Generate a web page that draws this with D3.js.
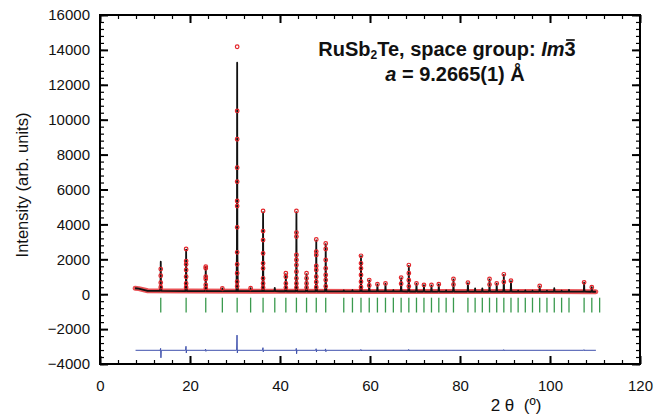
<!DOCTYPE html>
<html>
<head>
<meta charset="utf-8">
<script src="https://cdn.jsdelivr.net/npm/d3@7"></script>
<style>
  html, body { margin: 0; padding: 0; background: #fff; }
  svg { display: block; }
  text { font-family: "Liberation Sans", Arial, sans-serif; }
</style>
</head>
<body>
<svg id="chart" width="654" height="419"></svg>
<script>
// ---------- DATA ----------
// Bragg reflection positions (2θ, degrees)
const reflPos = [13.50, 19.14, 23.50, 27.19, 30.48, 33.47, 36.24, 38.84, 41.30, 43.65,
  45.90, 48.06, 50.16, 54.17, 56.10, 58.00, 59.83, 61.65, 63.44, 65.19,
  66.92, 68.63, 70.33, 71.99, 73.66, 75.29, 76.92, 78.55, 81.76, 83.36,
  84.96, 86.56, 88.16, 89.74, 91.33, 92.92, 94.51, 96.11, 97.71, 99.32,
  100.95, 102.58, 104.22, 107.58, 109.29, 111.03];
// Calculated peak-top intensities (same order; last reflection outside data range)
const calcTop = [1860, 2560, 1580, 330, 13270, 340, 4700, 360, 1150, 4700,
  1150, 3080, 2870, 220, 230, 2180, 790, 560, 600, 230,
  920, 1620, 600, 520, 510, 560, 220, 850, 640, 330,
  330, 850, 600, 1100, 750, 200, 220, 200, 450, 200,
  340, 200, 240, 660, 400, null];
// Background (observed/calculated baseline)
const bgX = [7.8, 8.6, 10.6, 20, 40, 60, 80, 100, 110.2];
const bgY = [340, 320, 195, 180, 170, 160, 150, 148, 140];
// Observed points on peaks (2θ, list of intensities)
const obsPos = [13.50, 19.14, 23.50, 27.19, 30.48, 33.47, 36.24, 41.30, 43.65, 45.90, 48.06, 50.16,
  58.00, 59.83, 61.65, 63.44, 66.92, 68.63, 70.33, 71.99, 73.66, 75.29, 78.55,
  81.76, 86.56, 88.16, 89.74, 91.33, 97.71, 107.58, 109.29];
const obsVals = [
  [1440, 1060, 660, 400],
  [2590, 1900, 1710, 1390, 1000, 620, 400],
  [1580, 1480, 1000, 870, 530, 350],
  [330],
  [14180, 10500, 8880, 7250, 6450, 5340, 5050, 3830, 2400, 1710, 1200, 720, 450],
  [340],
  [4770, 3620, 3100, 2340, 1770, 1480, 910, 620, 380],
  [1200, 1000, 620, 380],
  [4770, 3530, 3300, 2250, 1960, 1670, 1290, 910, 620, 380],
  [1200, 910, 620, 380],
  [3140, 2440, 2250, 1620, 1390, 1000, 700, 400],
  [2910, 2590, 1960, 1480, 1100, 810, 450],
  [2200, 1770, 1480, 1100, 720, 400],
  [810, 500],
  [570],
  [620],
  [950, 600],
  [1670, 1200, 800, 450],
  [620],
  [530],
  [530],
  [570],
  [870, 550],
  [660],
  [870, 550],
  [620],
  [1140, 700],
  [770],
  [470],
  [680],
  [400]
];
// Difference curve (Iobs - Icalc, offset)
const diffBase = -3215;
const diffRange = [7.9, 110.2];
const diffPos  = [13.50, 19.14, 23.50, 30.48, 36.24, 43.65, 48.06, 50.16, 58.00, 68.63, 89.74, 107.58];
const diffUp   = [110, 230, 70, 870, 150, 110, 90, 80, 50, 50, 40, 40];
const diffDown = [-430, -150, -60, -150, -90, -200, -90, -80, -40, -40, -40, -30];
// Bragg tick extent
const tickRange = [-200, -1050];
// Axis ticks
const xMajor = [0, 20, 40, 60, 80, 100, 120];
const xMinor = d3.range(0, 121, 4);
const yMajor = [-4000, -2000, 0, 2000, 4000, 6000, 8000, 10000, 12000, 14000, 16000];
const yMinor = d3.range(-4000, 16001, 400);

// ---------- LAYOUT ----------
const L = 100, R = 640, T = 15, B = 364;
const svg = d3.select("#chart");
const x = d3.scaleLinear().domain([0, 120]).range([L, R]);
const y = d3.scaleLinear().domain([-4000, 16000]).range([B, T]);
const bg = d3.scaleLinear().domain(bgX).range(bgY);

const RED = "#e3262b", BLACK = "#111", GREEN = "#3a9a4e", BLUE = "#3f51ad";

// ---------- CALCULATED PROFILE ----------
const hw = 0.16;
let calcPts = [];
bgX.forEach((bx, i) => calcPts.push([bx, bgY[i]]));
reflPos.forEach((p, i) => {
  const h = calcTop[i];
  if (h == null || p > bgX[bgX.length - 1]) return;
  const b = bg(p);
  calcPts.push([p - hw, b]);
  calcPts.push([p - 0.05, b + (h - b) * 0.18]);
  calcPts.push([p, h]);
  calcPts.push([p + 0.05, b + (h - b) * 0.18]);
  calcPts.push([p + hw, b]);
});
calcPts.sort((a, b) => a[0] - b[0]);
const line = d3.line().x(d => x(d[0])).y(d => y(d[1]));

// observed baseline band (dense observed points merge into a band)
svg.append("path")
  .attr("d", line(bgX.map((bx, i) => [bx, bgY[i]])))
  .attr("fill", "none").attr("stroke", RED).attr("stroke-width", 5)
  .attr("stroke-opacity", 0.8).attr("stroke-linejoin", "round").attr("stroke-linecap", "round");

// calculated line
svg.append("path")
  .attr("d", line(calcPts))
  .attr("fill", "none").attr("stroke", BLACK).attr("stroke-width", 1.8)
  .attr("stroke-linejoin", "round");

// observed circles
const obsFlat = [];
obsPos.forEach((p, i) => obsVals[i].forEach(v => obsFlat.push([p, v])));
svg.append("g").selectAll("circle").data(obsFlat).join("circle")
  .attr("cx", d => x(d[0])).attr("cy", d => y(d[1])).attr("r", 1.8)
  .attr("fill", "none").attr("stroke", RED).attr("stroke-width", 1.2);

// Bragg ticks
svg.append("g").selectAll("line").data(reflPos).join("line")
  .attr("x1", d => x(d)).attr("x2", d => x(d))
  .attr("y1", y(tickRange[0])).attr("y2", y(tickRange[1]))
  .attr("stroke", GREEN).attr("stroke-width", 1.3);

// Difference curve
let diffPts = [[diffRange[0], diffBase]];
diffPos.forEach((p, i) => {
  diffPts.push([p - 0.12, diffBase]);
  diffPts.push([p - 0.03, diffBase + diffUp[i]]);
  diffPts.push([p + 0.04, diffBase + diffDown[i]]);
  diffPts.push([p + 0.12, diffBase]);
});
diffPts.push([diffRange[1], diffBase]);
svg.append("path").attr("d", line(diffPts))
  .attr("fill", "none").attr("stroke", BLUE).attr("stroke-width", 1);

// ---------- AXES ----------
function styleAxis(g, w) {
  g.select(".domain").remove();
  g.selectAll(".tick line").attr("stroke", "#000").attr("stroke-width", w);
  g.selectAll("text").attr("font-size", 15).attr("fill", "#111")
    .attr("font-family", '"Liberation Sans", Arial, sans-serif');
}
// minor ticks
svg.append("g").attr("transform", `translate(0,${B})`)
  .call(d3.axisBottom(x).tickValues(xMinor).tickSize(-4).tickFormat("")).call(g => styleAxis(g, 1.2));
svg.append("g").attr("transform", `translate(0,${T})`)
  .call(d3.axisTop(x).tickValues(xMinor).tickSize(-4).tickFormat("")).call(g => styleAxis(g, 1.2));
svg.append("g").attr("transform", `translate(${L},0)`)
  .call(d3.axisLeft(y).tickValues(yMinor).tickSize(-4).tickFormat("")).call(g => styleAxis(g, 1.2));
svg.append("g").attr("transform", `translate(${R},0)`)
  .call(d3.axisRight(y).tickValues(yMinor).tickSize(-4).tickFormat("")).call(g => styleAxis(g, 1.2));
// major ticks
svg.append("g").attr("transform", `translate(0,${B})`)
  .call(d3.axisBottom(x).tickValues(xMajor).tickSize(-8).tickPadding(16).tickFormat(d3.format("d")))
  .call(g => styleAxis(g, 2));
svg.append("g").attr("transform", `translate(0,${T})`)
  .call(d3.axisTop(x).tickValues(xMajor).tickSize(-8).tickFormat("")).call(g => styleAxis(g, 2));
svg.append("g").attr("transform", `translate(${L},0)`)
  .call(d3.axisLeft(y).tickValues(yMajor).tickSize(-8).tickPadding(10).tickFormat(d3.format("d")))
  .call(g => styleAxis(g, 2));
svg.append("g").attr("transform", `translate(${R},0)`)
  .call(d3.axisRight(y).tickValues(yMajor).tickSize(-8).tickFormat("")).call(g => styleAxis(g, 2));

// frame
svg.append("rect").attr("x", L).attr("y", T).attr("width", R - L).attr("height", B - T)
  .attr("fill", "none").attr("stroke", "#000").attr("stroke-width", 2);

// ---------- LABELS ----------
svg.append("text")
  .attr("transform", `translate(28,185) rotate(-90)`)
  .attr("text-anchor", "middle").attr("font-size", 16.5).attr("fill", "#111")
  .text("Intensity (arb. units)");

svg.append("text")
  .attr("x", 516).attr("y", 411).attr("text-anchor", "middle")
  .attr("font-family", '"Liberation Serif", "Times New Roman", serif')
  .attr("font-size", 17).attr("fill", "#111")
  .attr("xml:space", "preserve")
  .text("2 θ  (º)");

const t1 = svg.append("text").attr("x", 447).attr("y", 56).attr("text-anchor", "middle")
  .attr("font-weight", "bold").attr("font-size", 20).attr("fill", "#111");
t1.append("tspan").text("RuSb");
t1.append("tspan").attr("font-size", 12).attr("dy", 3).text("2");
t1.append("tspan").attr("dy", -3).text("Te, space group: ");
t1.append("tspan").attr("font-style", "italic").text("Im");
t1.append("tspan").text("3");
// overbar on the 3
const tn = t1.node();
const nChars = tn.getNumberOfChars();
const ext = tn.getExtentOfChar(nChars - 1);
svg.append("line")
  .attr("x1", ext.x + 1.5).attr("x2", ext.x + ext.width - 1)
  .attr("y1", ext.y + 2).attr("y2", ext.y + 2)
  .attr("stroke", "#111").attr("stroke-width", 1.7);

const t2 = svg.append("text").attr("x", 455).attr("y", 81).attr("text-anchor", "middle")
  .attr("font-weight", "bold").attr("font-size", 20).attr("fill", "#111");
t2.append("tspan").attr("font-style", "italic").text("a");
t2.append("tspan").text(" = 9.2665(1) Å");
</script>
</body>
</html>
